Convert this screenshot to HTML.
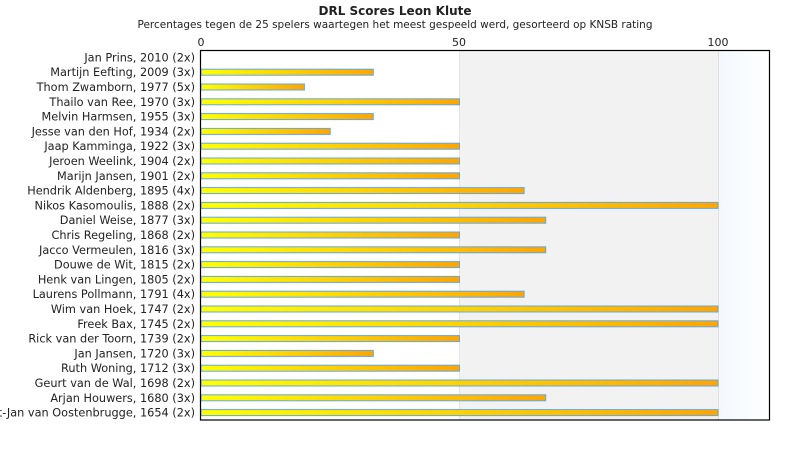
<!DOCTYPE html>
<html><head><meta charset="utf-8"><style>body{margin:0;background:#fff}svg{display:block}text{font-family:"DejaVu Sans","Liberation Sans",sans-serif;fill:#222}</style></head><body>
<svg width="790" height="450" viewBox="0 0 790 450">
<defs>
<linearGradient id="g" x1="0" y1="0" x2="1" y2="0"><stop offset="0" stop-color="#ffff00"/><stop offset="1" stop-color="#ffa500"/></linearGradient>
<linearGradient id="b" x1="0" y1="0" x2="1" y2="0"><stop offset="0" stop-color="#f3f8fd"/><stop offset="1" stop-color="#ffffff"/></linearGradient>
</defs>
<text x="395" y="15" text-anchor="middle" font-size="12" font-weight="bold">DRL Scores Leon Klute</text>
<text x="395" y="28" text-anchor="middle" font-size="11" textLength="515" lengthAdjust="spacingAndGlyphs">Percentages tegen de 25 spelers waartegen het meest gespeeld werd, gesorteerd op KNSB rating</text>
<rect x="459" y="50" width="259" height="370" fill="#f2f2f2"/>
<rect x="718" y="50" width="52" height="370" fill="url(#b)"/>
<line x1="459.5" y1="50" x2="459.5" y2="420" stroke="#e4e4e4"/>
<line x1="718.5" y1="50" x2="718.5" y2="420" stroke="#e0e0e0"/>
<text x="201" y="46" text-anchor="middle" font-size="11">0</text>
<text x="459" y="46" text-anchor="middle" font-size="11">50</text>
<text x="718" y="46" text-anchor="middle" font-size="11">100</text>
<g id="bars"></g>
<g font-size="11.3" text-anchor="end" id="labels"></g>
<rect x="200.5" y="50.5" width="569" height="369.5" fill="none" stroke="#000" stroke-width="1.2"/>
</svg>
<script>
var d=[["Jan Prins, 2010 (2x)",0],["Martijn Eefting, 2009 (3x)",33.33],["Thom Zwamborn, 1977 (5x)",20],["Thailo van Ree, 1970 (3x)",50],["Melvin Harmsen, 1955 (3x)",33.33],["Jesse van den Hof, 1934 (2x)",25],["Jaap Kamminga, 1922 (3x)",50],["Jeroen Weelink, 1904 (2x)",50],["Marijn Jansen, 1901 (2x)",50],["Hendrik Aldenberg, 1895 (4x)",62.5],["Nikos Kasomoulis, 1888 (2x)",100],["Daniel Weise, 1877 (3x)",66.67],["Chris Regeling, 1868 (2x)",50],["Jacco Vermeulen, 1816 (3x)",66.67],["Douwe de Wit, 1815 (2x)",50],["Henk van Lingen, 1805 (2x)",50],["Laurens Pollmann, 1791 (4x)",62.5],["Wim van Hoek, 1747 (2x)",100],["Freek Bax, 1745 (2x)",100],["Rick van der Toorn, 1739 (2x)",50],["Jan Jansen, 1720 (3x)",33.33],["Ruth Woning, 1712 (3x)",50],["Geurt van de Wal, 1698 (2x)",100],["Arjan Houwers, 1680 (3x)",66.67],["Bert-Jan van Oostenbrugge, 1654 (2x)",100]];
var ns="http://www.w3.org/2000/svg",B=document.getElementById("bars"),L=document.getElementById("labels");
d.forEach(function(r,i){var c=50+14.8*(i+0.5);
var t=document.createElementNS(ns,"text");t.setAttribute("x",195);t.setAttribute("y",c+4);t.textContent=r[0];L.appendChild(t);
if(r[1]>0){var w=r[1]*5.17;var e=document.createElementNS(ns,"rect");e.setAttribute("x",201);e.setAttribute("y",c-3);e.setAttribute("width",w);e.setAttribute("height",6);e.setAttribute("fill","url(#g)");e.setAttribute("stroke","#5fa8e8");e.setAttribute("stroke-width","1");B.appendChild(e);}});
</script>
</body></html>
